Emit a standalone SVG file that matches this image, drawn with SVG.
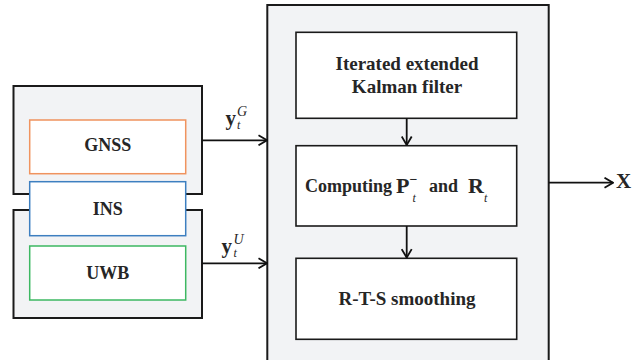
<svg xmlns="http://www.w3.org/2000/svg" width="634" height="360" viewBox="0 0 634 360">
  <defs>
    <marker id="arrow" viewBox="0 0 10 12" refX="9.5" refY="6" markerWidth="10" markerHeight="12" markerUnits="userSpaceOnUse" orient="auto">
      <path d="M1,1 L9.5,6 L1,11" fill="none" stroke="#111" stroke-width="1.8"/>
    </marker>
    <style>
      .container { fill: #f2f3f5; stroke: #1a1a1a; stroke-width: 2; }
      .block { fill: #ffffff; stroke: #1a1a1a; stroke-width: 1.6; }
      .sensor { fill: #ffffff; stroke-width: 1.5; }
      .lbl { font-family: "Liberation Serif", "Times New Roman", serif; font-weight: bold; font-size: 18px; fill: #262626; text-anchor: middle; }
      .big { font-size: 19px; }
      .math { font-family: "Liberation Serif", "Times New Roman", serif; fill: #262626; }
      .conn { fill: none; stroke: #111; stroke-width: 1.8; }
    </style>
  </defs>

  <!-- sensor side: two grey frames sharing the INS block -->
  <g id="gnss-frame">
    <rect class="container" x="13.5" y="86" width="188.5" height="108"/>
  </g>
  <g id="uwb-frame">
    <rect class="container" x="13.5" y="210" width="188.5" height="108"/>
  </g>
  <g id="gnss">
    <rect class="sensor" x="29.7" y="120" width="156" height="53.7" stroke="#f0935e"/>
    <text class="lbl" x="107.7" y="151">GNSS</text>
  </g>
  <g id="ins">
    <rect class="sensor" x="29.7" y="181.7" width="156" height="54" stroke="#3d7fc0"/>
    <text class="lbl" x="107.7" y="215">INS</text>
  </g>
  <g id="uwb">
    <rect class="sensor" x="29.7" y="246" width="156" height="54" stroke="#3db862"/>
    <text class="lbl" x="107.7" y="279">UWB</text>
  </g>

  <!-- estimator frame -->
  <g id="estimator">
    <rect class="container" x="267.3" y="5" width="281.4" height="360"/>
  </g>
  <g id="iekf">
    <rect class="block" x="296" y="32.3" width="220.7" height="86"/>
    <text class="lbl big" x="407" y="70">Iterated extended</text>
    <text class="lbl big" x="407" y="93">Kalman filter</text>
  </g>
  <g id="computing">
    <rect class="block" x="296" y="145.7" width="220.7" height="80.3"/>
    <text class="lbl" x="305" y="192" style="text-anchor:start">Computing</text>
    <text class="math" x="396" y="192.5" font-size="22" font-weight="bold">P</text>
    <text class="math" x="409.5" y="183.5" font-size="14" font-weight="bold">−</text>
    <text class="math" x="412.5" y="202" font-size="12" font-style="italic">t</text>
    <text class="lbl" x="429" y="192" style="text-anchor:start">and</text>
    <text class="math" x="468" y="192.5" font-size="22" font-weight="bold">R</text>
    <text class="math" x="484" y="202" font-size="12" font-style="italic">t</text>
  </g>
  <g id="rts">
    <rect class="block" x="296" y="258.3" width="220.7" height="81"/>
    <text class="lbl big" x="407" y="305">R-T-S smoothing</text>
  </g>

  <!-- connectors -->
  <g id="connectors">
    <line class="conn" x1="202" y1="140.3" x2="267" y2="140.3" marker-end="url(#arrow)"/>
    <line class="conn" x1="202" y1="263.3" x2="267" y2="263.3" marker-end="url(#arrow)"/>
    <line class="conn" x1="406.7" y1="118.3" x2="406.7" y2="145" marker-end="url(#arrow)"/>
    <line class="conn" x1="406.7" y1="226" x2="406.7" y2="257.6" marker-end="url(#arrow)"/>
    <line class="conn" x1="548.7" y1="182.7" x2="613" y2="182.7" marker-end="url(#arrow)"/>
  </g>

  <!-- signal labels -->
  <g id="label-yG">
    <text class="math" x="225.5" y="125" font-size="21" font-weight="bold">y</text>
    <text class="math" x="237" y="116" font-size="14" font-style="italic">G</text>
    <text class="math" x="237" y="128.5" font-size="12" font-style="italic">t</text>
  </g>
  <g id="label-yU">
    <text class="math" x="221.5" y="253" font-size="21" font-weight="bold">y</text>
    <text class="math" x="233.5" y="244" font-size="14" font-style="italic">U</text>
    <text class="math" x="233.5" y="257" font-size="12" font-style="italic">t</text>
  </g>
  <g id="output-x">
    <text class="math" x="616" y="188" font-size="21" font-weight="bold">X</text>
  </g>
</svg>
